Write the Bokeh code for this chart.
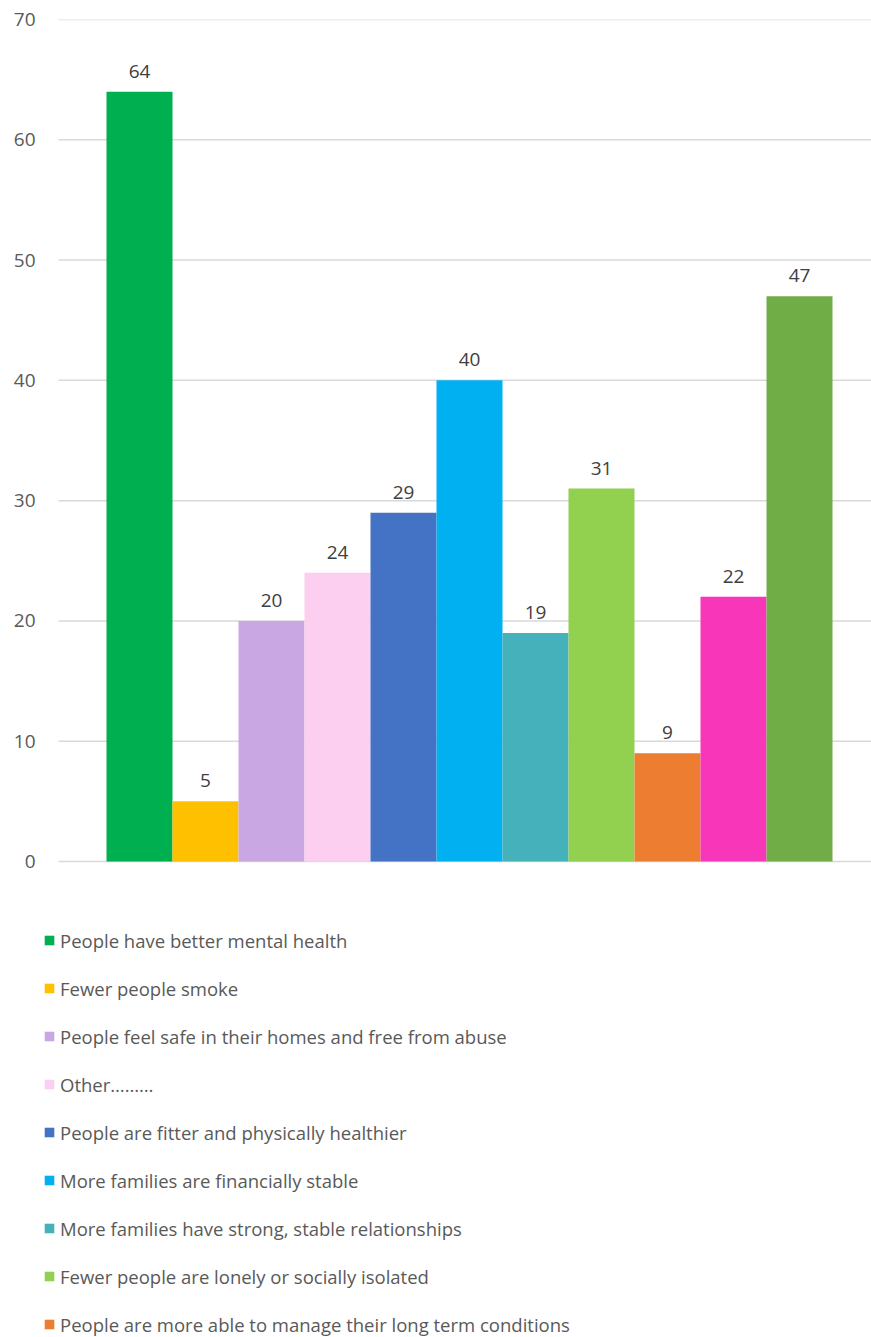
from bokeh.plotting import figure
from bokeh.models import ColumnDataSource, Range1d, Legend, LegendItem, FixedTicker, LabelSet
from bokeh.core.properties import value
from bokeh.embed import file_html
from bokeh.resources import INLINE

values = [64, 5, 20, 24, 29, 40, 19, 31, 9, 22, 47]
colors = ["#00B050", "#FFC000", "#C9A7E2", "#FCCFF0", "#4472C4", "#00B0F0",
          "#45B2BB", "#92D050", "#ED7D31", "#F736BA", "#70AD47"]
legend_labels = [
    "People have better mental health",
    "Fewer people smoke",
    "People feel safe in their homes and free from abuse",
    "Other………",
    "People are fitter and physically healthier",
    "More families are financially stable",
    "More families have strong, stable relationships",
    "Fewer people are lonely or socially isolated",
    "People are more able to manage their long term conditions",
]
y_ticks = [0, 10, 20, 30, 40, 50, 60, 70]

FONT = "Open Sans"

# layout constants (pixels)
W, H = 871, 1337
FRAME_LEFT, FRAME_TOP = 42, 19
BAR_PX = 66.0                 # width of one bar in pixels
FIRST_BAR_CENTER = 139.0      # pixel x of first bar centre
GRID_LEFT = 58.0              # pixel x where gridlines start
ZERO_Y, TOP_Y = 861.0, 19.0   # pixel y of value 0 and value 70

px_per_unit = (ZERO_Y - TOP_Y) / 70.0
x_start = (FRAME_LEFT - FIRST_BAR_CENTER) / BAR_PX
x_end = (W - FIRST_BAR_CENTER) / BAR_PX
y_start = -(H - ZERO_Y) / px_per_unit
grid_x0 = (GRID_LEFT - FIRST_BAR_CENTER) / BAR_PX

p = figure(width=W, height=H, output_backend="svg", toolbar_location=None,
           x_axis_type=None, min_border_left=FRAME_LEFT, min_border_right=0,
           min_border_top=FRAME_TOP, min_border_bottom=0,
           x_range=Range1d(x_start, x_end), y_range=Range1d(y_start, 70))
p.outline_line_color = None
p.background_fill_color = "white"
p.border_fill_color = "white"
p.xgrid.grid_line_color = None
p.ygrid.grid_line_color = None

# gridlines at the tick values
p.segment(x0=[grid_x0] * len(y_ticks), x1=[x_end] * len(y_ticks),
          y0=y_ticks, y1=y_ticks, line_color="#D9D9D9", line_width=1.5)

xs = list(range(len(values)))
src = ColumnDataSource(dict(x=xs, top=values, color=colors,
                            label=[str(v) for v in values]))
bars = p.vbar(x="x", top="top", width=1.0, bottom=0, fill_color="color",
              line_color=None, source=src)

labels = LabelSet(x="x", y="top", text="label", source=src, text_align="center",
                  text_baseline="alphabetic", y_offset=14, text_font=value(FONT),
                  text_font_size="19px", text_color="#404040")
p.add_layout(labels)

p.yaxis.ticker = FixedTicker(ticks=y_ticks)
p.yaxis.axis_line_color = None
p.yaxis.major_tick_line_color = None
p.yaxis.minor_tick_line_color = None
p.yaxis.major_tick_out = 0
p.yaxis.major_tick_in = 0
p.yaxis.major_label_standoff = 7
p.yaxis.major_label_text_font = FONT
p.yaxis.major_label_text_font_size = "19px"
p.yaxis.major_label_text_color = "#595959"

items = [LegendItem(label=lab, renderers=[bars], index=i)
         for i, lab in enumerate(legend_labels)]
legend = Legend(items=items, location=(1, 0), orientation="vertical",
                glyph_width=12, glyph_height=12, label_height=26, spacing=22,
                padding=0, margin=0, label_standoff=5,
                label_text_font=FONT, label_text_font_size="18.5px",
                label_text_color="#595959",
                border_line_color=None, background_fill_alpha=0)
p.add_layout(legend, "center")

open("out.html", "w").write(file_html(p, INLINE))
